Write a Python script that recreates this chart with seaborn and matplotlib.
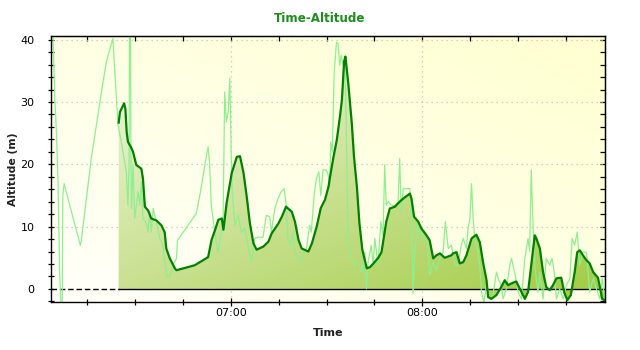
import numpy as np
import pandas as pd
import matplotlib
matplotlib.use("Agg")
import matplotlib.pyplot as plt
from matplotlib.ticker import MultipleLocator, FuncFormatter
from matplotlib.colors import to_rgb
from matplotlib.path import Path
import seaborn as sns

# GPS track: minutes after 06:00 and altitude in metres (raw samples)
raw_minutes = [
    4.3, 4.9, 5.4, 5.9, 6.4, 6.8, 7.2, 7.4, 7.8, 10.1,
    12.9, 13.2, 16.3, 19.5, 21.0, 23.1, 23.7, 24.7, 25.7, 27.3,
    27.8, 28.15, 28.4, 28.6, 28.7, 28.9, 29.4, 29.9, 31.0, 31.5,
    32.0, 32.5, 33.6, 34.1, 34.6, 35.1, 35.7, 36.7, 37.8, 38.8,
    39.3, 40.1, 40.9, 41.9, 43.0, 43.3, 49.2, 50.3, 51.9, 52.9,
    53.4, 53.9, 55.0, 56.0, 57.1, 57.6, 58.1, 58.6, 59.2, 59.7,
    60.0, 60.4, 61.3, 62.3, 63.3, 64.4, 65.4, 66.5, 67.5, 68.5,
    70.1, 71.1, 72.2, 72.7, 73.8, 74.8, 75.8, 76.7, 77.4, 77.9,
    78.8, 79.5, 80.0, 81.1, 82.1, 82.6, 83.7, 84.7, 85.2, 86.1,
    86.8, 87.6, 88.2, 88.9, 89.9, 90.5, 91.0, 91.3, 91.8, 92.4,
    93.1, 93.6, 94.1, 94.6, 95.2, 95.7, 96.2, 96.7, 97.8, 98.8,
    99.9, 100.9, 102.0, 102.5, 103.0, 104.0, 104.6, 105.1, 106.1, 107.0,
    107.7, 108.2, 108.7, 109.3, 110.3, 111.4, 112.4, 112.9, 113.4, 114.0,
    116.1, 116.6, 117.1, 117.6, 118.7, 119.7, 120.8, 121.8, 122.3, 123.4,
    124.4, 125.5, 126.5, 127.2, 128.1, 129.1, 130.2, 131.2, 132.2, 132.8,
    133.8, 134.3, 134.9, 135.4, 135.9, 136.4, 137.2, 138.0, 138.5, 139.3,
    140.1, 141.1, 142.1, 143.2, 143.7, 144.7, 145.3, 146.3, 147.4, 147.9,
    148.9, 150.0, 151.0, 152.1, 153.1, 153.6, 154.1, 154.7, 155.2, 156.2,
    156.8, 157.8, 158.8, 159.9, 160.6, 161.3, 162.0, 163.0, 164.1, 165.1,
    166.2, 166.9, 167.7, 168.5, 169.3, 170.3, 171.4, 172.4, 173.5, 174.5,
    175.6, 176.3, 177.1,
]
raw_altitude = [
    41.0, 30.5, 25.2, 17.2, 2.7, -2.5, -2.5, 15.0, 16.9, 12.4,
    7.0, 7.8, 20.9, 31.6, 36.4, 40.2, 34.8, 26.3, 23.6, 18.8,
    13.4, 20.0, 60.0, 60.0, 23.6, 12.9, 19.9, 11.3, 15.6, 13.4,
    17.2, 11.3, 10.5, 9.1, 12.4, 9.1, 12.9, 10.8, 8.1, 7.0,
    4.3, 1.9, 1.9, 3.8, 4.9, 7.8, 12.1, 15.0, 19.9, 22.8,
    19.9, 13.4, 9.1, 5.9, 9.1, 11.3, 31.6, 26.8, 28.4, 33.8,
    25.2, 16.1, 10.2, 11.8, 9.1, 9.7, 7.0, 4.3, 8.1, 8.3,
    8.3, 11.8, 11.6, 9.1, 12.9, 14.5, 15.6, 16.1, 13.4, 8.1,
    7.0, 9.1, 5.9, 4.9, 4.3, 5.9, 6.5, 10.2, 9.1, 15.0,
    17.7, 18.8, 15.0, 19.1, 19.1, 18.3, 16.6, 23.6, 22.0, 34.8,
    39.6, 39.4, 35.9, 37.5, 35.9, 37.0, 25.2, 7.5, 4.9, 3.8,
    4.3, 2.7, 5.9, 0.0, 4.3, 7.0, 3.8, 8.1, 3.8, 10.8,
    8.6, 19.9, 13.4, 14.0, 13.4, 13.4, 14.0, 20.9, 12.4, 16.1,
    16.1, 11.3, -0.7, 5.9, 10.8, 8.1, 9.1, 6.5, 2.2, 4.3,
    3.0, 4.9, 5.9, 10.8, 6.5, 7.0, 3.8, 3.8, 7.0, 8.1,
    6.5, 9.7, 11.3, 16.9, 11.3, 8.1, 6.5, 3.8, -0.5, -2.1,
    0.6, -1.6, -1.0, 2.7, 1.7, 0.6, -1.6, 0.0, 3.8, 4.9,
    2.7, -0.5, -1.6, 4.9, 8.1, 6.0, 19.1, 9.7, 3.8, -0.5,
    2.7, -1.6, 4.9, 3.8, 4.9, 2.7, -1.6, 0.0, -1.6, 0.6,
    1.7, 8.1, 7.0, 9.1, 3.8, 5.9, 5.9, -0.5, 1.7, 0.0,
    -1.6, 1.7, -1.6,
]

# Smoothed altitude profile
smooth_minutes = [
    24.9, 25.3, 26.6, 27.0, 27.4, 27.8, 28.7, 29.4, 30.4, 32.0,
    32.5, 33.1, 34.1, 35.1, 36.7, 38.3, 39.3, 39.8, 40.9, 42.5,
    43.0, 45.1, 48.7, 51.3, 52.9, 54.0, 55.1, 56.1, 57.2, 57.7,
    58.7, 60.3, 61.9, 62.9, 64.0, 65.0, 66.0, 67.1, 68.1, 70.2,
    71.8, 72.8, 74.9, 76.0, 77.3, 79.1, 80.1, 81.2, 82.2, 84.3,
    85.4, 86.9, 88.2, 89.5, 90.6, 91.1, 92.1, 93.2, 94.2, 94.8,
    95.5, 95.9, 96.8, 97.9, 98.6, 99.5, 100.3, 101.2, 102.6, 103.6,
    104.7, 106.2, 107.2, 108.7, 109.8, 111.4, 112.9, 114.0, 116.1, 116.6,
    117.4, 118.7, 119.7, 121.3, 122.3, 123.4, 124.4, 125.5, 127.0, 129.1,
    129.6, 130.7, 131.7, 132.8, 133.8, 135.4, 136.9, 138.0, 139.0, 140.1,
    140.6, 141.6, 143.2, 144.7, 145.8, 146.8, 148.4, 149.4, 150.5, 152.1,
    153.1, 154.1, 155.2, 155.7, 156.8, 157.8, 158.8, 159.9, 160.9, 162.0,
    163.5, 164.4, 165.4, 166.5, 167.7, 168.5, 169.3, 170.3, 171.4, 172.4,
    173.5, 175.0, 175.6, 176.3, 177.1,
]
smooth_altitude = [
    26.7, 28.4, 29.8, 28.9, 25.2, 23.6, 22.8, 22.0, 19.9, 19.3,
    17.7, 13.2, 12.6, 11.3, 11.0, 10.2, 9.1, 6.5, 4.9, 3.3,
    3.0, 3.3, 3.8, 4.6, 5.1, 7.9, 9.5, 11.1, 11.3, 9.5,
    13.8, 18.6, 21.2, 21.3, 18.6, 14.8, 10.5, 7.3, 6.3, 6.8,
    7.6, 8.9, 10.5, 11.6, 13.2, 12.4, 10.8, 7.9, 6.5, 6.0,
    7.3, 10.0, 13.0, 14.3, 16.4, 18.0, 21.0, 23.9, 27.7, 30.3,
    36.5, 37.3, 33.0, 26.6, 21.2, 16.4, 10.5, 6.3, 3.3, 3.5,
    4.1, 5.0, 5.9, 10.8, 12.9, 13.2, 14.0, 14.5, 15.3, 14.5,
    11.6, 10.8, 9.7, 8.6, 7.8, 4.9, 5.4, 5.7, 5.0, 5.4,
    5.7, 5.9, 4.1, 4.3, 5.4, 8.1, 8.7, 7.5, 4.3, 1.4,
    -1.3, -1.6, -1.0, 0.3, 1.4, 0.6, 1.0, 1.2, 0.05, -1.6,
    -0.5, 3.8, 8.6, 8.1, 6.5, 2.7, 0.3, -0.2, 0.6, 1.7,
    1.8, -0.5, -1.8, -1.0, 2.7, 5.9, 6.2, 5.4, 4.6, 4.1,
    2.7, 1.8, 0.3, -1.6, -1.8,
]

title = "Time-Altitude"
x_label = "Time"
y_label = "Altitude (m)"

raw_df = pd.DataFrame({"minutes": raw_minutes, "altitude": raw_altitude})
smooth_df = pd.DataFrame({"minutes": smooth_minutes, "altitude": smooth_altitude})

x_min, x_max = 3.7, 177.2
y_min, y_max = -2.1, 40.6

fig = plt.figure(figsize=(6.4, 3.5), dpi=100, facecolor="white")
ax = fig.add_axes([51 / 640, 1 - 302 / 350, 554 / 640, 266 / 350])
ax.set_xlim(x_min, x_max)
ax.set_ylim(y_min, y_max)


def gradient(c0, c1, wx, wy, t0=0.0, n=256):
    u = np.linspace(0, 1, n)
    X, Y = np.meshgrid(u, u)
    t = np.clip(t0 + wx * X + wy * Y, 0, 1)[..., None]
    return (1 - t) * np.array(to_rgb(c0)) + t * np.array(to_rgb(c1))


extent = (x_min, x_max, y_min, y_max)
# plot background: white at lower left fading to pale yellow at upper right
ax.imshow(gradient("#FFFFFA", "#FFFFD0", 0.5, 0.5), extent=extent, origin="lower",
          aspect="auto", zorder=0, interpolation="bilinear")

# area under the smoothed profile, shaded with a diagonal gradient
poly = ax.fill_between(smooth_df["minutes"], smooth_df["altitude"], 0,
                       facecolor="none", edgecolor="none", zorder=2)
fill_img = ax.imshow(gradient("#F8FAEE", "#A2CC44", 0.5, -0.55, t0=0.52),
                     extent=extent, origin="lower", aspect="auto", zorder=2,
                     interpolation="bilinear")
clip = Path.make_compound_path(*poly.get_paths())
fill_img.set_clip_path(clip, ax.transData)

ax.set_xlim(x_min, x_max)
ax.set_ylim(y_min, y_max)

# grid
ax.set_axisbelow(False)
for yv in (10, 20, 30, 40):
    ax.axhline(yv, color="#C4C4C4", lw=0.9, ls=(0, (1, 3)), zorder=1)
for xv in (60, 120):
    ax.axvline(xv, color="#C4C4C4", lw=0.9, ls=(0, (1, 3)), zorder=1)

# zero baseline
start = smooth_df["minutes"].iloc[0]
ax.plot([x_min, start], [0, 0], color="black", lw=1.0, ls=(0, (4, 2)), zorder=3)
ax.plot([start, x_max], [0, 0], color="black", lw=1.0, zorder=3)

sns.lineplot(data=raw_df, x="minutes", y="altitude", ax=ax, color="#90EE90",
             linewidth=0.9, estimator=None, sort=False, zorder=4)
sns.lineplot(data=smooth_df, x="minutes", y="altitude", ax=ax, color="#008000",
             linewidth=1.6, estimator=None, sort=False, zorder=5)

ax.set_xlim(x_min, x_max)
ax.set_ylim(y_min, y_max)

# ticks
ax.xaxis.set_major_locator(MultipleLocator(60))
ax.xaxis.set_minor_locator(MultipleLocator(15))
ax.xaxis.set_major_formatter(FuncFormatter(lambda v, p: f"{6 + int(round(v)) // 60:02d}:{int(round(v)) % 60:02d}"))
ax.yaxis.set_major_locator(MultipleLocator(10))
ax.yaxis.set_minor_locator(MultipleLocator(2))
ax.tick_params(axis="x", which="major", direction="inout", length=6, width=0.9,
               labelsize=8, pad=1.5)
ax.tick_params(axis="x", which="minor", direction="inout", length=5, width=0.9)
ax.tick_params(axis="y", which="both", direction="inout", length=4.5, width=0.9,
               labelsize=8, pad=9.5)

top = ax.secondary_xaxis("top")
top.xaxis.set_major_locator(MultipleLocator(15))
top.tick_params(direction="in", length=3.5, width=0.9, labeltop=False)
right = ax.secondary_yaxis("right")
right.yaxis.set_major_locator(MultipleLocator(2))
right.tick_params(direction="in", length=3.5, width=0.9, labelright=False)

for s in ax.spines.values():
    s.set_color("black")
    s.set_linewidth(1.0)
    s.set_zorder(6)

ax.set_xlabel(x_label, fontsize=8, fontweight="bold", color="#222222", labelpad=7)
ax.set_ylabel(y_label, fontsize=7.8, fontweight="bold", color="#222222", labelpad=1.5)
fig.suptitle(title, x=0.5, y=1 - 18 / 350, va="center", fontsize=8.6,
             fontweight="bold", color="#1E8C1E")

fig.savefig("out.png", dpi=100, facecolor="white")
